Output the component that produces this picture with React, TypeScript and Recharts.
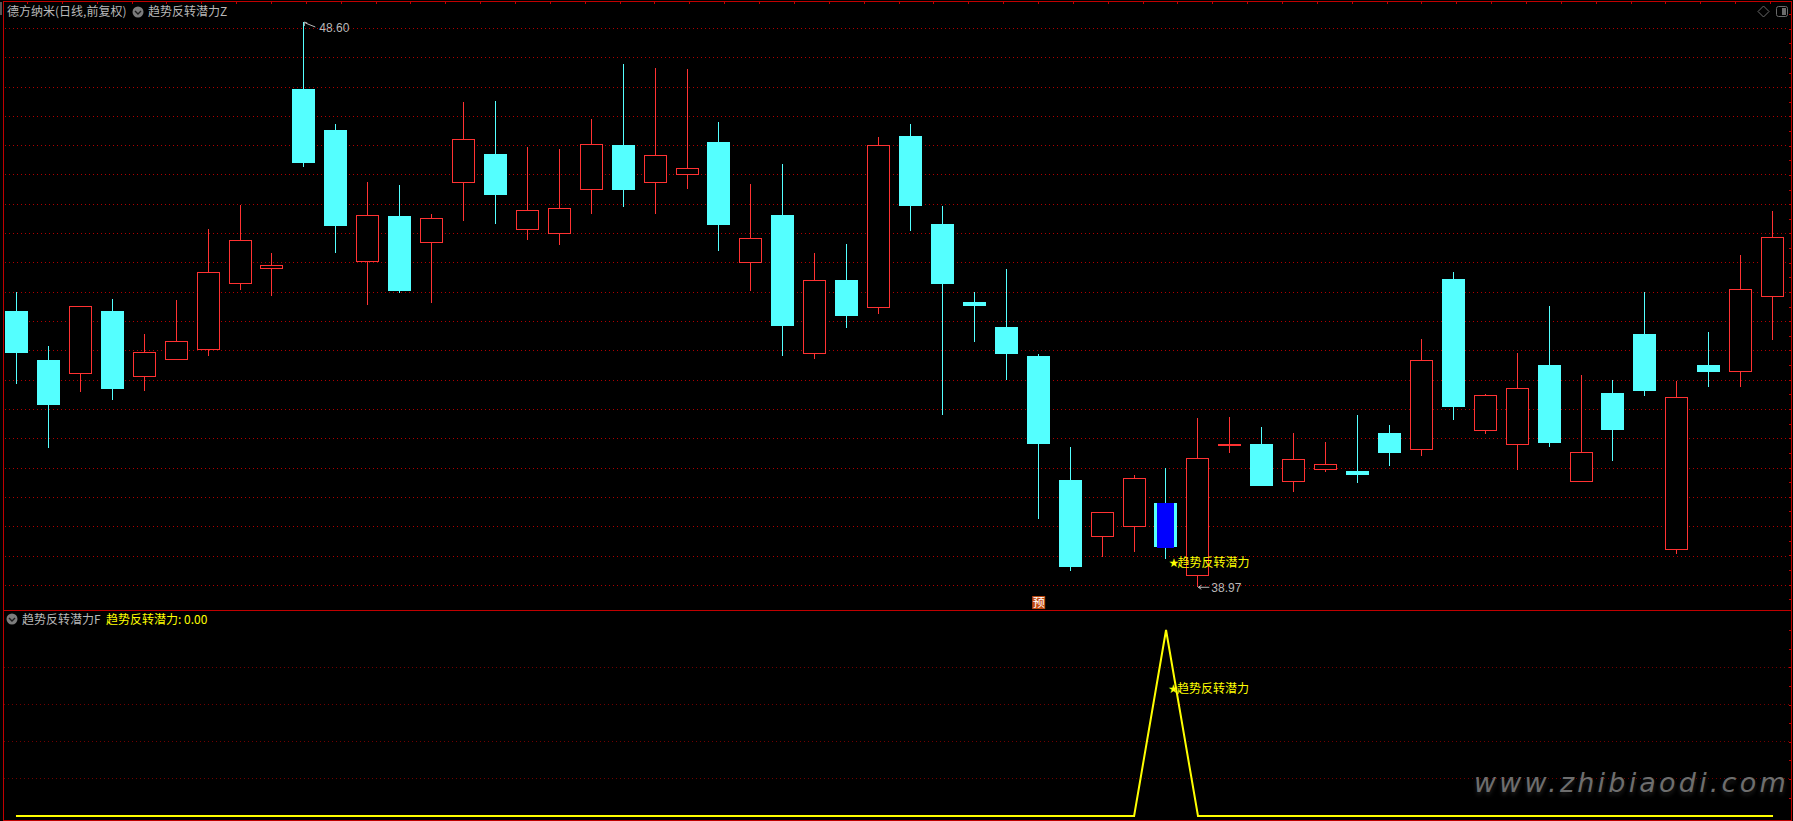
import { Bar, CartesianGrid, ComposedChart, Line, ReferenceDot, XAxis, YAxis } from 'recharts';

const opens = [43.68, 42.84, 42.61, 43.68, 42.56, 42.85, 43.01, 44.13, 44.40, 47.46, 46.76, 44.52, 45.29, 44.84, 45.85, 46.35, 45.05, 44.99, 45.74, 46.50, 45.85, 46.00, 46.56, 44.50, 45.31, 42.95, 44.21, 43.72, 46.66, 45.16, 43.83, 43.40, 42.91, 40.80, 39.83, 40.00, 40.41, 39.17, 41.37, 41.41, 40.77, 40.97, 40.95, 41.60, 41.31, 44.22, 41.64, 41.40, 42.76, 40.77, 42.28, 43.28, 39.61, 42.76, 42.64, 43.92];
const closes = [42.96, 42.08, 43.76, 42.35, 42.97, 43.16, 44.34, 44.88, 44.46, 46.20, 45.12, 45.32, 44.02, 45.26, 46.60, 45.65, 45.39, 45.43, 46.53, 45.74, 46.33, 46.12, 45.14, 44.92, 43.42, 44.20, 43.59, 46.50, 45.47, 44.14, 43.76, 42.94, 41.41, 39.32, 40.25, 40.83, 39.66, 41.18, 41.41, 40.70, 41.15, 41.07, 40.88, 41.26, 42.85, 42.04, 42.24, 42.36, 41.43, 41.27, 41.65, 42.31, 42.22, 42.64, 44.05, 44.93];
const highs = [44.00, 43.08, 43.76, 43.88, 43.28, 43.86, 45.07, 45.48, 44.66, 48.60, 46.86, 45.87, 45.82, 45.33, 47.24, 47.25, 46.47, 46.44, 46.95, 47.88, 47.82, 47.80, 46.90, 45.84, 46.18, 44.66, 44.82, 46.64, 46.86, 45.47, 44.00, 44.39, 42.94, 41.36, 40.25, 40.88, 41.00, 41.85, 41.87, 41.70, 41.60, 41.45, 41.91, 41.73, 43.20, 44.34, 42.26, 42.96, 43.76, 42.59, 42.50, 44.00, 42.48, 43.32, 44.63, 45.38];
const lows = [42.43, 41.34, 42.30, 42.16, 42.31, 42.85, 42.91, 44.03, 43.93, 46.13, 44.67, 43.78, 43.99, 43.81, 45.21, 45.16, 44.89, 44.80, 45.33, 45.45, 45.33, 45.75, 44.70, 44.02, 42.91, 42.86, 43.39, 43.63, 45.04, 41.91, 43.15, 42.50, 40.13, 39.25, 39.49, 39.57, 39.45, 38.97, 41.26, 40.70, 40.59, 40.93, 40.75, 41.04, 41.21, 41.82, 41.58, 40.97, 41.36, 40.77, 41.12, 42.23, 39.54, 42.38, 42.38, 43.18];
const signal = [0, 0, 0, 0, 0, 0, 0, 0, 0, 0, 0, 0, 0, 0, 0, 0, 0, 0, 0, 0, 0, 0, 0, 0, 0, 0, 0, 0, 0, 0, 0, 0, 0, 0, 0, 0, 1, 0, 0, 0, 0, 0, 0, 0, 0, 0, 0, 0, 0, 0, 0, 0, 0, 0, 0, 0];

const priceGrid = [48.49, 48.0, 47.49, 46.99, 46.5, 46.01, 45.49, 45.0, 44.51, 44.0, 43.5, 43.01, 42.5, 42.0, 41.51, 41.0, 40.5, 40.01, 39.5, 39.0];
const signalGrid = [0.2, 0.4, 0.6, 0.8];

const highIndex = 9;
const lowIndex = 37;
const signalIndex = 36;
const previewIndex = 32;

const data = opens.map((open, i) => ({
    i,
    open,
    close: closes[i],
    high: highs[i],
    low: lows[i],
    signal: signal[i],
}));

const CYAN = '#54ffff';
const RED = '#ff3232';
const BLUE = '#0000ff';
const YELLOW = '#ffff00';
const GRAY = '#b8b8b8';
const BORDER = '#c00000';
const CJK = '"Noto Sans CJK SC", sans-serif';
const LATIN = '"Liberation Sans", sans-serif';

// frame decoration: the little scale marks along the top and right edges
const topMarks = Array.from({ length: 51 }, (_, k) => 27 + k * 34.86);
const rightMarks = Array.from({ length: 41 }, (_, k) => 14 + k * 14.63);
const rightMarksLower = [630, 649, 667, 686, 705, 723, 742, 760, 779, 798];

function Candle(props: any) {
    const { x, y, width, height, payload } = props;
    const top = Math.min(y, y + height);
    const scale = Math.abs(height) / (payload.high - payload.low);
    const yOf = (p: number) => Math.round(top + (payload.high - p) * scale);
    const bx = Math.round(x);
    const mid = bx + Math.floor(width / 2) + 0.5;
    const up = payload.close >= payload.open;
    const bodyTop = yOf(Math.max(payload.open, payload.close));
    const bodyBottom = yOf(Math.min(payload.open, payload.close));
    const color = up ? RED : CYAN;
    const thin = bodyBottom - bodyTop <= 2;
    return (
        <g shapeRendering="crispEdges">
            <line x1={mid} x2={mid} y1={yOf(payload.high)} y2={yOf(payload.low)} stroke={color} />
            {up && !thin ? (
                <rect x={bx + 0.5} y={bodyTop + 0.5} width={width - 1} height={bodyBottom - bodyTop - 1} fill="#000" stroke={color} />
            ) : (
                <rect x={bx} y={bodyTop} width={width} height={Math.max(bodyBottom - bodyTop, 2)} fill={color} />
            )}
            {payload.i === signalIndex && (
                <rect x={bx + 3} y={bodyTop} width={width - 6} height={bodyBottom - bodyTop + 1} fill={BLUE} />
            )}
        </g>
    );
}

function HighMark(props: any) {
    const { cx, cy } = props;
    return (
        <g>
            <path d={`M${cx} ${cy + 4} L${cx} ${cy} L${cx + 3} ${cy + 1} M${cx + 1} ${cy + 1} L${cx + 11} ${cy + 5}`} stroke={GRAY} fill="none" />
            <text x={cx + 15} y={cy + 10} fill={GRAY} fontSize={12} fontFamily={LATIN}>{highs[highIndex].toFixed(2)}</text>
        </g>
    );
}

function LowMark(props: any) {
    const { cx, cy } = props;
    return (
        <g>
            <path d={`M${cx} ${cy} L${cx + 11} ${cy} M${cx} ${cy} L${cx + 3} ${cy - 2} M${cx} ${cy} L${cx + 3} ${cy + 2}`} stroke={GRAY} fill="none" />
            <text x={cx + 13} y={cy + 5} fill={GRAY} fontSize={12} fontFamily={LATIN}>{lows[lowIndex].toFixed(2)}</text>
        </g>
    );
}

function StarMark(props: any) {
    const { cx, cy } = props;
    return (
        <g>
            <text x={cx + 2} y={cy + 5} fill={YELLOW} fontSize={12} fontFamily="DejaVu Sans">★</text>
            <text x={cx + 11} y={cy + 5} fill={YELLOW} fontSize={12} fontFamily={CJK}>趋势反转潜力</text>
        </g>
    );
}

function PreviewMark(props: any) {
    const { cx, cy } = props;
    return (
        <g>
            <rect x={cx - 6.5} y={cy - 6.5} width={13} height={13} fill="#c04a10" />
            <text x={cx} y={cy + 4.5} fill="#fff" fontSize={12} textAnchor="middle" fontFamily={CJK}>预</text>
        </g>
    );
}

function Label({ x, y, color = GRAY, font = CJK, children }: any) {
    return (
        <div style={{ position: 'absolute', left: x, top: y, color, fontFamily: font, fontSize: 12, lineHeight: '14px', whiteSpace: 'nowrap' }}>
            {children}
        </div>
    );
}

function Chevron({ x, y }: { x: number; y: number }) {
    return (
        <svg width={12} height={12} style={{ position: 'absolute', left: x, top: y }}>
            <circle cx={6} cy={6} r={5.5} fill="#7c7c7c" />
            <path d="M3 5 L6 8 L9 5" stroke="#1c1c1c" strokeWidth={1.4} fill="none" />
        </svg>
    );
}

function Rule({ x, y, w, h, color = BORDER }: any) {
    return <div style={{ position: 'absolute', left: x, top: y, width: w, height: h, background: color }} />;
}

export default function App() {
    return (
        <div style={{ position: 'absolute', left: 0, top: 0, width: 1793, height: 821, background: '#000', overflow: 'hidden' }}>
            <div style={{ position: 'absolute', left: 0, top: 0 }}>
                <ComposedChart width={1793} height={611} data={data} margin={{ top: 0, right: 4, bottom: 0, left: 1 }}>
                    <CartesianGrid horizontal vertical={false} horizontalValues={priceGrid} stroke="#b00000" strokeDasharray="1 3" shapeRendering="crispEdges" />
                    <XAxis dataKey="i" type="category" scale="band" hide />
                    <YAxis type="number" domain={[38.566, 48.975]} hide allowDataOverflow />
                    <Bar dataKey={(d: any) => [d.low, d.high]} barSize={23} shape={Candle} isAnimationActive={false} />
                    <ReferenceDot x={highIndex} y={highs[highIndex]} shape={HighMark} ifOverflow="visible" />
                    <ReferenceDot x={lowIndex} y={lows[lowIndex]} shape={LowMark} ifOverflow="visible" />
                    <ReferenceDot x={signalIndex} y={39.4} shape={StarMark} ifOverflow="visible" />
                    <ReferenceDot x={previewIndex} y={38.71} shape={PreviewMark} ifOverflow="visible" />
                </ComposedChart>
            </div>
            <div style={{ position: 'absolute', left: 0, top: 611 }}>
                <ComposedChart width={1793} height={210} data={data} margin={{ top: 19, right: 4, bottom: 5, left: 0 }}>
                    <CartesianGrid horizontal vertical={false} horizontalValues={signalGrid} stroke="#700000" strokeDasharray="1 3" shapeRendering="crispEdges" />
                    <XAxis dataKey="i" type="category" scale="band" hide />
                    <YAxis type="number" domain={[0, 1]} hide />
                    <Line dataKey="signal" stroke={YELLOW} strokeWidth={2} dot={false} isAnimationActive={false} />
                    <ReferenceDot x={signalIndex} y={0.69} shape={StarMark} ifOverflow="visible" />
                </ComposedChart>
            </div>

            <Rule x={0} y={0} w={3} h={821} color="#000" />
            <Rule x={3} y={1} w={1789} h={1} />
            <Rule x={3} y={1} w={1} h={820} />
            <Rule x={1791} y={1} w={1} h={820} />
            <Rule x={3} y={610} w={1789} h={1} />
            <Rule x={3} y={820} w={1789} h={1} />
            {topMarks.map((m) => <Rule key={m} x={Math.round(m)} y={2} w={1} h={2} />)}
            {rightMarks.map((m) => <Rule key={m} x={1789} y={Math.round(m)} w={2} h={1} />)}
            {rightMarksLower.map((m) => <Rule key={m} x={1789} y={m} w={2} h={1} />)}
            <Rule x={0} y={2} w={2} h={13} color="#555" />

            <Label x={7} y={4}>德方纳米(日线,前复权)</Label>
            <Chevron x={132} y={6} />
            <Label x={148} y={4}>趋势反转潜力Z</Label>
            <Chevron x={6} y={613} />
            <Label x={22} y={612}>趋势反转潜力F</Label>
            <Label x={106} y={612} color={YELLOW}>趋势反转潜力: 0.00</Label>

            <svg width={34} height={18} style={{ position: 'absolute', left: 1757, top: 3 }}>
                <path d="M6.5 3 L12 8.5 L6.5 14 L1 8.5 Z" stroke="#6a6a6a" fill="none" />
                <rect x={19.5} y={3.5} width={11} height={10} rx={2} stroke="#6a6a6a" fill="none" />
                <rect x={25} y={5} width={4} height={7} fill="#6a6a6a" />
            </svg>

            <div style={{ position: 'absolute', left: 1474, top: 767, color: '#6e6e6e', fontFamily: '"DejaVu Sans"', fontStyle: 'italic', fontSize: 27, lineHeight: '32px', letterSpacing: 3.2, textShadow: '0 3px 4px rgba(110,110,110,0.3)', whiteSpace: 'nowrap' }}>
                www.zhibiaodi.com
            </div>
        </div>
    );
}
